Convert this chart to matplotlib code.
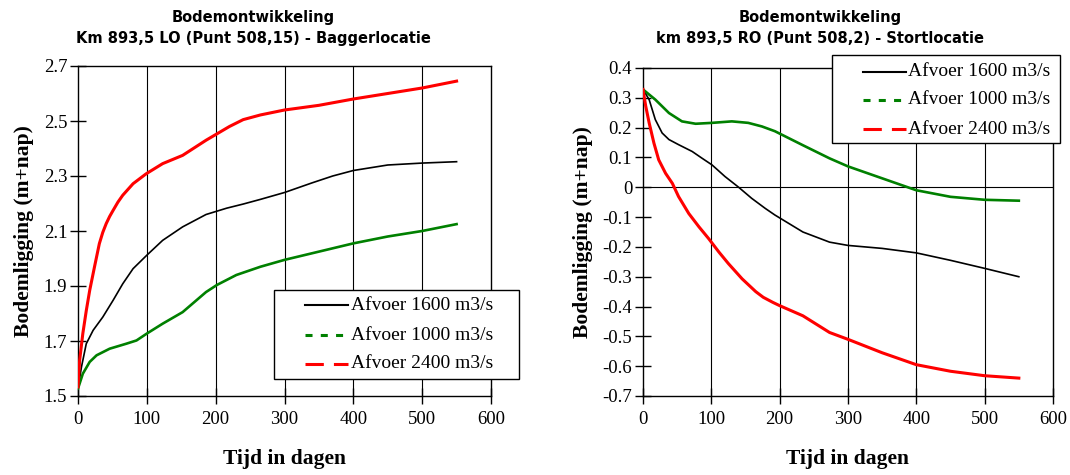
import matplotlib
matplotlib.use("Agg")
import matplotlib.pyplot as plt
from matplotlib.lines import Line2D
from matplotlib.patches import Rectangle

# ---------------- data ----------------
series_labels = ["Afvoer 1600 m3/s", "Afvoer 1000 m3/s", "Afvoer 2400 m3/s"]

# Left chart: Km 893,5 LO (Baggerlocatie)
lo_1600_x = [0, 5, 12, 22, 36, 51, 65, 80, 100, 123, 152, 186, 216, 240, 265, 300, 340, 370, 400, 450, 500, 550]
lo_1600_y = [1.527, 1.605, 1.69, 1.739, 1.787, 1.848, 1.908, 1.963, 2.012, 2.066, 2.115, 2.16, 2.183, 2.198, 2.215, 2.24, 2.275, 2.30, 2.32, 2.34, 2.347, 2.352]

lo_1000_x = [0, 7, 17, 27, 46, 70, 85, 100, 123, 152, 186, 202, 230, 265, 300, 350, 400, 450, 500, 550]
lo_1000_y = [1.527, 1.581, 1.624, 1.648, 1.672, 1.69, 1.702, 1.727, 1.763, 1.805, 1.878, 1.904, 1.94, 1.97, 1.995, 2.025, 2.055, 2.08, 2.10, 2.125]

lo_2400_x = [0, 2.4, 7, 12, 17, 24, 31, 36, 41, 46, 51, 58, 65, 80, 99, 123, 152, 186, 220, 240, 265, 300, 350, 400, 450, 500, 550]
lo_2400_y = [1.533, 1.63, 1.727, 1.81, 1.884, 1.97, 2.054, 2.095, 2.127, 2.153, 2.175, 2.205, 2.23, 2.272, 2.308, 2.345, 2.375, 2.43, 2.48, 2.505, 2.522, 2.54, 2.557, 2.58, 2.60, 2.62, 2.645]

# Right chart: km 893,5 RO (Stortlocatie)
ro_1600_x = [0, 9, 18, 28, 38, 52, 72, 86, 101, 120, 140, 159, 179, 193, 234, 273, 300, 350, 400, 450, 500, 550]
ro_1600_y = [0.328, 0.294, 0.227, 0.182, 0.16, 0.143, 0.12, 0.098, 0.075, 0.036, 0.0, -0.037, -0.071, -0.093, -0.15, -0.184, -0.195, -0.205, -0.22, -0.245, -0.272, -0.30]

ro_1000_x = [0, 18, 38, 57, 77, 101, 130, 154, 174, 193, 234, 273, 300, 350, 400, 450, 500, 550]
ro_1000_y = [0.328, 0.294, 0.249, 0.221, 0.213, 0.216, 0.221, 0.216, 0.204, 0.188, 0.141, 0.097, 0.07, 0.03, -0.01, -0.032, -0.042, -0.045]

ro_2400_x = [0, 4, 9, 16, 23, 33, 43, 52, 67, 82, 96, 111, 125, 145, 165, 176, 190, 200, 234, 273, 300, 350, 400, 450, 500, 550]
ro_2400_y = [0.328, 0.272, 0.216, 0.148, 0.092, 0.047, 0.013, -0.031, -0.088, -0.133, -0.172, -0.217, -0.256, -0.307, -0.35, -0.369, -0.386, -0.397, -0.431, -0.487, -0.51, -0.555, -0.595, -0.617, -0.632, -0.64]

x_ticks = [0, 100, 200, 300, 400, 500, 600]
lo_yticks = [1.5, 1.7, 1.9, 2.1, 2.3, 2.5, 2.7]
ro_yticks = [0.4, 0.3, 0.2, 0.1, 0.0, -0.1, -0.2, -0.3, -0.4, -0.5, -0.6, -0.7]

title_lo = "Bodemontwikkeling\nKm 893,5 LO (Punt 508,15) - Baggerlocatie"
title_ro = "Bodemontwikkeling\nkm 893,5 RO (Punt 508,2) - Stortlocatie"
xlabel = "Tijd in dagen"
ylabel = "Bodemligging (m+nap)"

colors = ["black", "#008000", "#ff0000"]
widths = [1.2, 1.9, 2.2]
legend_styles = ["-", (0, (2.3, 2.7)), (0, (6, 3.3))]

# ---------------- figure ----------------
fig = plt.figure(figsize=(10.7, 4.75), dpi=100)
W, H = 1070, 475
def ax_rect(l, r, t, b):
    return [l / W, 1 - b / H, (r - l) / W, (b - t) / H]

ax1 = fig.add_axes(ax_rect(78, 491, 66, 396))
ax2 = fig.add_axes(ax_rect(643, 1053, 68, 396))

serif = "Liberation Serif"

def style(ax, yticks, ylim, fmt):
    ax.set_xlim(0, 600)
    ax.set_ylim(*ylim)
    ax.set_xticks(x_ticks)
    ax.set_yticks(yticks)
    ax.set_xticklabels([str(v) for v in x_ticks], fontfamily=serif, fontsize=13.5)
    ax.set_yticklabels([fmt(v) for v in yticks], fontfamily=serif, fontsize=13.5)
    ax.tick_params(direction="inout", length=11.5, width=1, color="black", pad=2)
    ax.tick_params(axis="x", pad=5)
    for s in ax.spines.values():
        s.set_color("black")
        s.set_linewidth(1.0)
    for xv in x_ticks[1:-1]:
        ax.axvline(xv, color="black", lw=0.8, zorder=1)
    ax.set_xlabel(xlabel, fontfamily=serif, fontsize=15.5, fontweight="bold", labelpad=15)
    ax.set_ylabel(ylabel, fontfamily=serif, fontsize=15.5, fontweight="bold", labelpad=7)

def fmt_lo(v):
    return f"{v:.1f}"

def fmt_ro(v):
    if abs(v) < 1e-9:
        return "0"
    return f"{v:.1f}"

style(ax1, lo_yticks, (1.5, 2.7), fmt_lo)
style(ax2, ro_yticks, (-0.7, 0.4), fmt_ro)
ax2.axhline(0, color="black", lw=0.8, zorder=1)

ax1.plot(lo_1600_x, lo_1600_y, color=colors[0], lw=widths[0], zorder=3)
ax1.plot(lo_1000_x, lo_1000_y, color=colors[1], lw=widths[1], zorder=3)
ax1.plot(lo_2400_x, lo_2400_y, color=colors[2], lw=widths[2], zorder=3)

ax2.plot(ro_1600_x, ro_1600_y, color=colors[0], lw=widths[0], zorder=3)
ax2.plot(ro_1000_x, ro_1000_y, color=colors[1], lw=widths[1], zorder=3)
ax2.plot(ro_2400_x, ro_2400_y, color=colors[2], lw=widths[2], zorder=3)

# ---------------- legends (drawn in figure pixel positions) ----------------
def fx(px):
    return px / W

def fy(py):
    return 1 - py / H

def draw_legend(box, rows_y, hx0, hx1, tx):
    l, r, t, b = box
    fig.add_artist(Rectangle((fx(l), fy(b)), fx(r) - fx(l), fy(t) - fy(b),
                             transform=fig.transFigure, facecolor="white",
                             edgecolor="black", lw=1.0, zorder=10))
    for i, label in enumerate(series_labels):
        yy = fy(rows_y[i])
        fig.add_artist(Line2D([fx(hx0), fx(hx1)], [yy, yy], transform=fig.transFigure,
                              color=colors[i], lw=1.5 if i == 0 else 2.2,
                              linestyle=legend_styles[i], zorder=11))
        fig.text(fx(tx), yy, label, ha="left", va="center", fontfamily=serif,
                 fontsize=14, zorder=12)

draw_legend((274, 519, 290, 379), [305, 335, 364], 305, 348, 351)
draw_legend((832, 1060, 55, 143), [72, 100, 129], 863, 906, 908)

fig.text(253 / W, 1 - 28 / H, title_lo, ha="center", va="center",
         fontfamily="DejaVu Sans", fontsize=10.5, fontweight="bold", linespacing=1.55)
fig.text(820 / W, 1 - 28 / H, title_ro, ha="center", va="center",
         fontfamily="DejaVu Sans", fontsize=10.5, fontweight="bold", linespacing=1.55)

fig.savefig("out.png", dpi=100)
